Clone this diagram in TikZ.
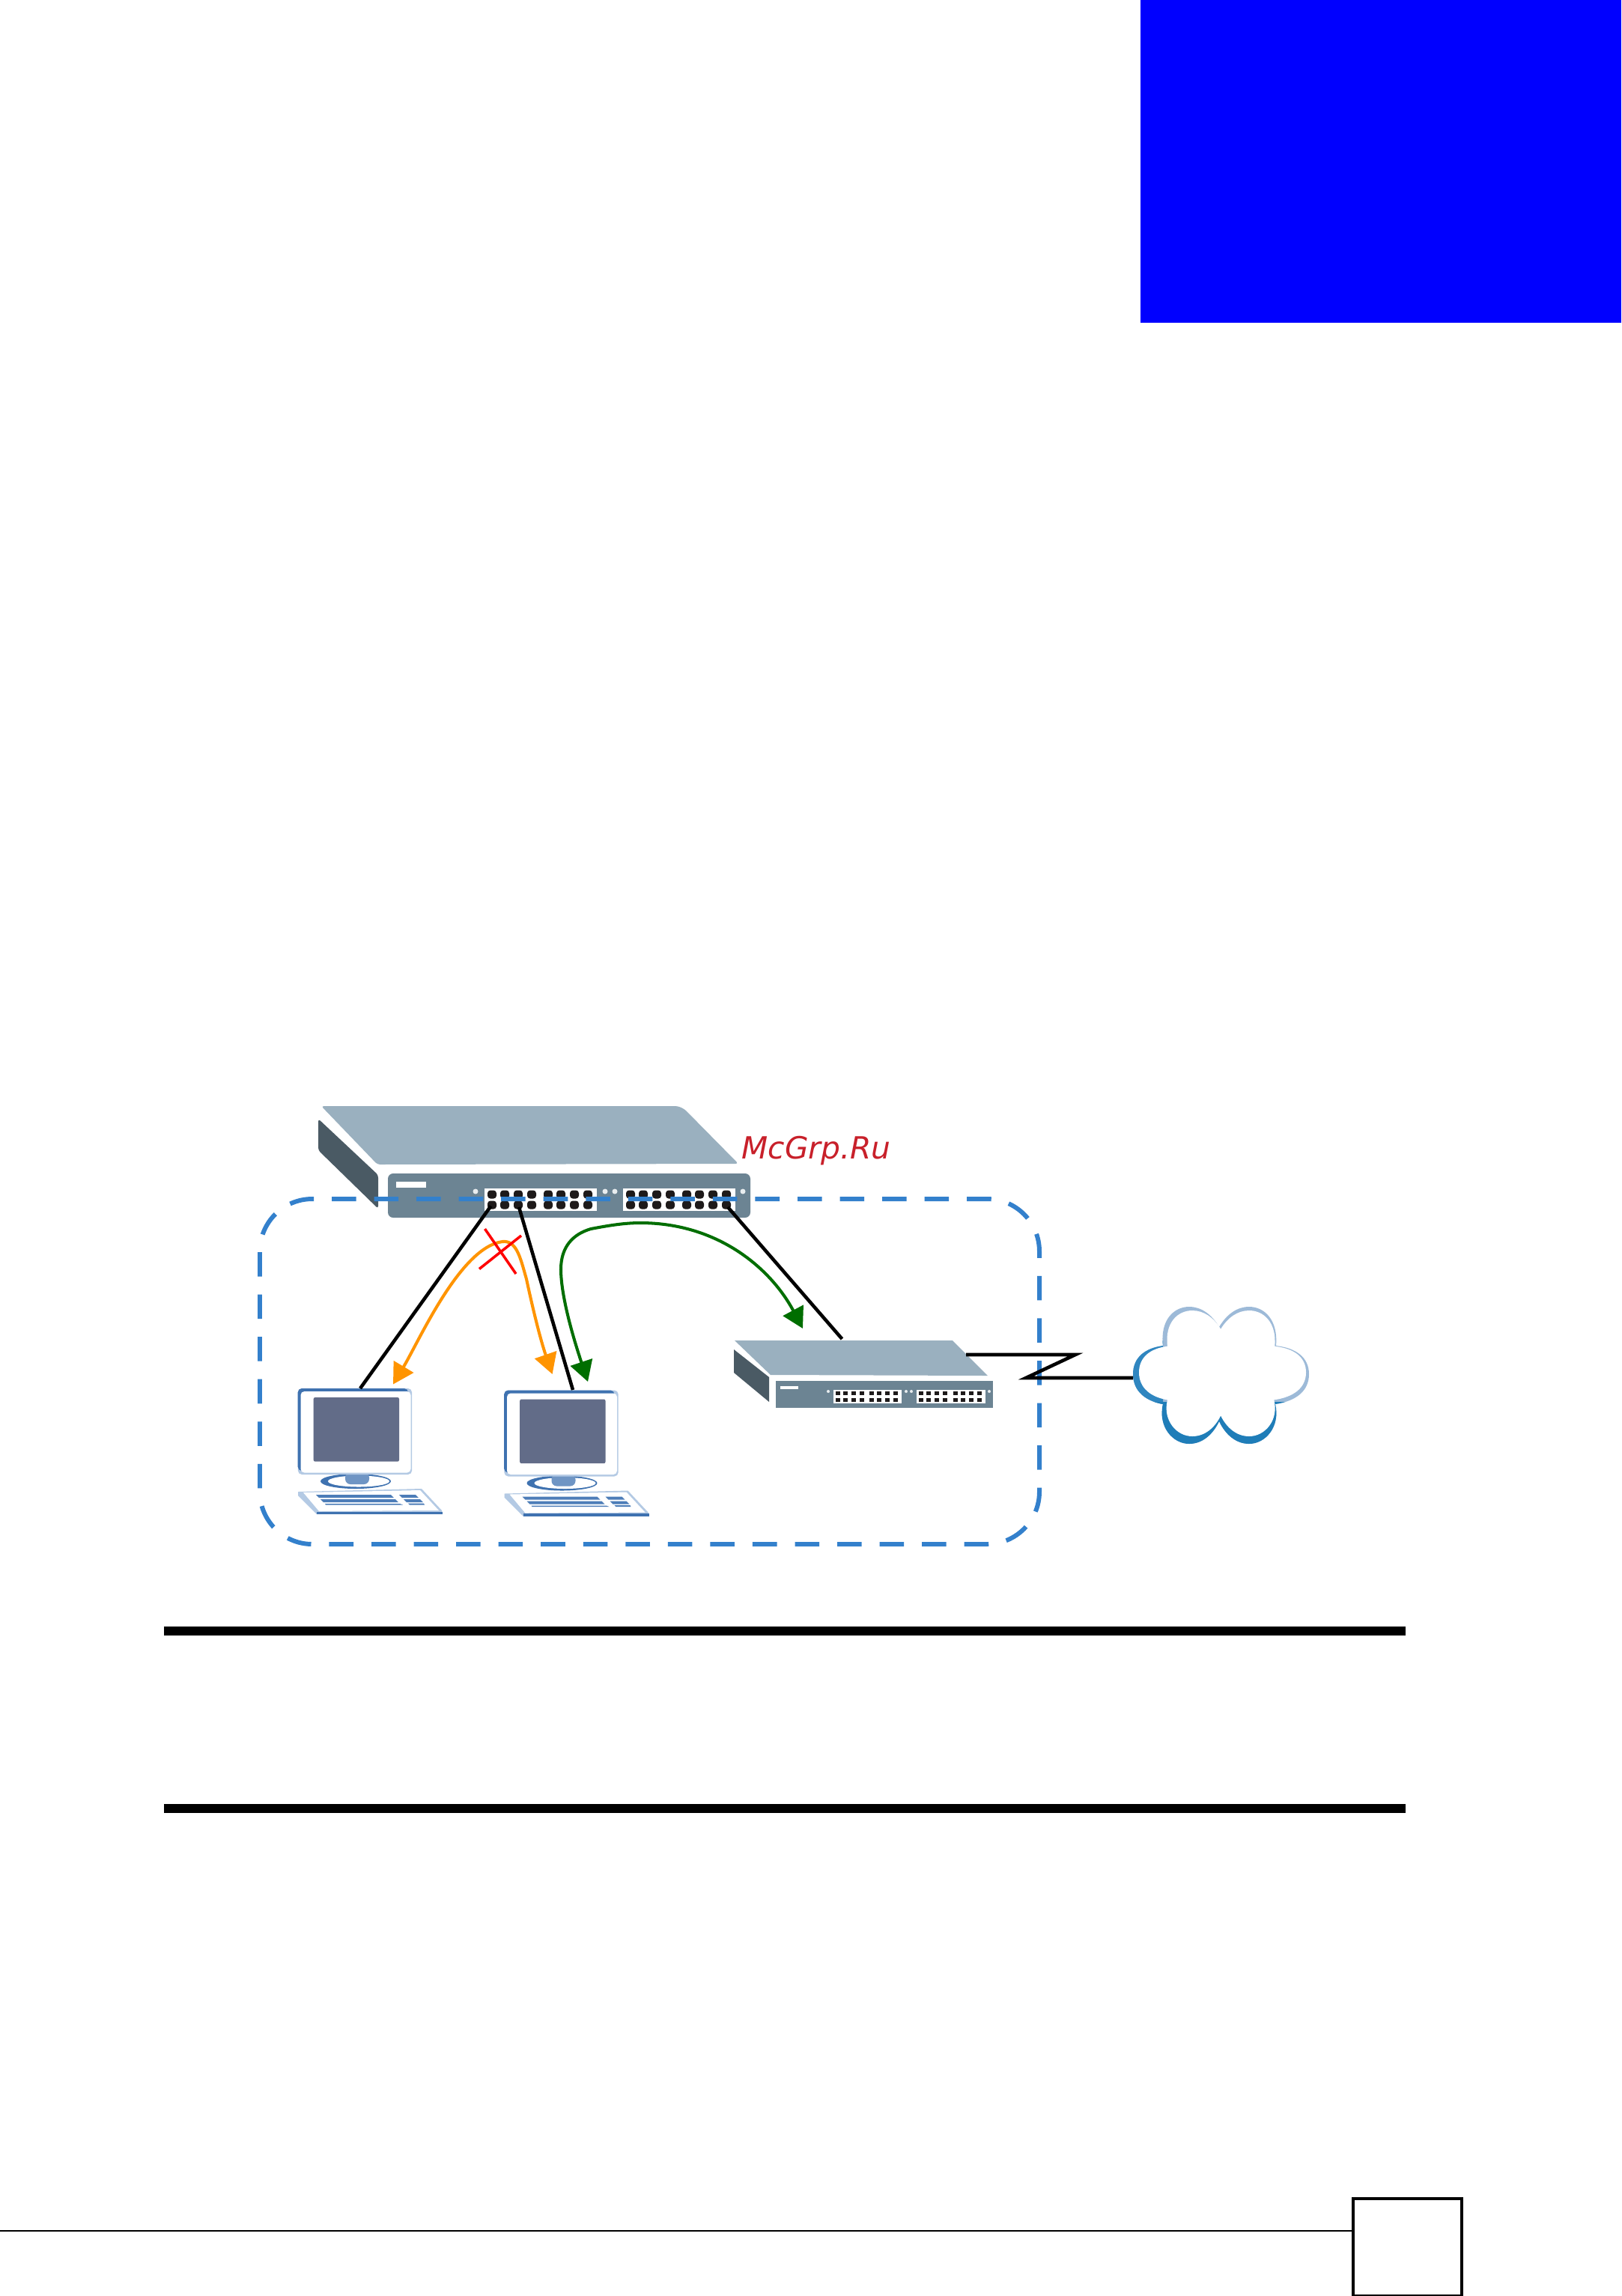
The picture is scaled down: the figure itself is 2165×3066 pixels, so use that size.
\documentclass[tikz,border=0pt]{standalone}
\usepackage{fontspec}
\setmainfont{DejaVu Sans}
\usetikzlibrary{arrows.meta}
\definecolor{topface}{HTML}{9AB0BF}
\definecolor{sideface}{HTML}{4A5A64}
\definecolor{frontface}{HTML}{6C8493}
\definecolor{portblack}{HTML}{1E1A1A}
\definecolor{zoneblue}{HTML}{3380CC}
\definecolor{okgreen}{HTML}{006E00}
\definecolor{blockorange}{HTML}{FF9400}
\definecolor{screen}{HTML}{626C88}
\definecolor{pcblue}{HTML}{3F72B0}
\definecolor{pckey}{HTML}{4D7DB8}
\definecolor{pcpale}{HTML}{B4CAE4}
\definecolor{wmred}{HTML}{C8202A}
\definecolor{cloudpale}{HTML}{9DBAD8}
\definecolor{cloudmid}{HTML}{2F86C0}
\definecolor{clouddark}{HTML}{1F7DB8}
\newcommand\cloudshape{(1628,1772) .. controls (1618,1755) and (1604,1745) .. (1588,1745)
  .. controls (1568,1745) and (1549,1762) .. (1553,1797)
  .. controls (1530,1800) and (1513,1812) .. (1513,1835)
  .. controls (1513,1858) and (1530,1871) .. (1553,1875)
  .. controls (1546,1905) and (1566,1928) .. (1588,1928)
  .. controls (1606,1928) and (1620,1915) .. (1628,1898)
  .. controls (1636,1915) and (1650,1928) .. (1668,1928)
  .. controls (1690,1928) and (1710,1905) .. (1703,1875)
  .. controls (1730,1871) and (1748,1858) .. (1748,1835)
  .. controls (1748,1812) and (1730,1800) .. (1704,1797)
  .. controls (1707,1762) and (1688,1745) .. (1668,1745)
  .. controls (1652,1745) and (1638,1755) .. (1628,1772) -- cycle}
\tikzset{
  x=0.01cm,y=-0.01cm,
  wire/.style={draw=black,line width=1.3pt},
  zone/.style={draw=zoneblue,line width=1.7pt,dash pattern=on 9.25pt off 6.83pt},
  flow/.style={line width=1.15pt,{Triangle[length=7.8pt,width=8.6pt]}-{Triangle[length=7.8pt,width=8.6pt]}},
  crossmark/.style={draw=red,line width=1pt},
  hrule/.style={draw=black,line width=3.41pt},
}
\begin{document}
\begin{tikzpicture}
\useasboundingbox (0,0) rectangle (2165,3066);
\fill[white] (0,0) rectangle (2165,3066);
% banner
\fill[blue] (1523,0) rectangle (2165,431);
% main switch
\fill[topface,rounded corners=1pt] (429,1477)--(905,1477)--(914,1481)--(986,1554)--(504,1555)--cycle;
\fill[sideface,rounded corners=1pt] (425,1494)--(505,1569)--(505,1614)--(425,1536)--cycle;
\fill[frontface,rounded corners=2pt] (518,1567) rectangle (1002,1626);
\fill[white] (529,1578) rectangle (569,1586);
\fill[white] (647,1587) rectangle (797,1617);
\fill[white] (832,1587) rectangle (982,1617);
\foreach \px in {657,674,692,710,732,749,767,785,842,859,877,895,917,934,952,970}
  \foreach \py in {1595,1609}
    \fill[portblack,rounded corners=1.1pt] (\px-6,\py-5.5) rectangle (\px+6,\py+5.5);
\foreach \px in {635,808,821,992}
  \fill[white!85!frontface] (\px,1591) circle[radius=3.5];
% small switch
\fill[topface] (981,1790)--(1272,1790)--(1319,1837)--(1029,1836)--cycle;
\fill[sideface] (980,1802)--(1027,1839)--(1027,1872)--(980,1833)--cycle;
\fill[frontface] (1036,1844) rectangle (1326,1880);
\fill[white] (1042,1850.5) rectangle (1066,1855);
\fill[white] (1112.5,1856) rectangle (1203.5,1874);
\fill[white] (1224,1856) rectangle (1316,1874);
\foreach \bx in {1112.5,1224}
  \foreach \ox in {6,16.4,27.3,38.2,51.6,61.9,72.8,83.8}
    \foreach \py in {1860.5,1869.5}
      \fill[portblack] (\bx+\ox-3,\py-2.6) rectangle (\bx+\ox+3,\py+2.6);
\foreach \px in {1106,1210,1217,1321}
  \fill[white!85!frontface] (\px,1858) circle[radius=2];
% computers
\foreach \pcname/\dx/\dy in {pca/0/0,pcb/275.5/2.5}{
\begin{scope}[shift={(\dx,\dy)}]
  % keyboard
  \fill[pcpale] (398,1992)--(563,1988)--(590,2017)--(591,2022)--(423,2022)--(398,1997)--cycle;
  \fill[white] (405,1993)--(561,1990)--(586,2017)--(426,2018)--cycle;
  \fill[pcblue] (423,2018.5) rectangle (591,2022);
  \fill[pckey] (422,1996)--(522,1996)--(526,2000)--(426,2000)--cycle;
  \fill[pckey] (428,2002)--(528,2002)--(532,2006)--(432,2006)--cycle;
  \fill[pckey] (434,2008)--(534,2008)--(538,2009.5)--(435,2009.5)--cycle;
  \fill[pckey] (533,1996)--(555,1996)--(559,2000)--(537,2000)--cycle;
  \fill[pckey] (539,2002)--(561,2002)--(565,2006)--(543,2006)--cycle;
  \fill[pckey] (545,2007.5)--(566,2007.5)--(567,2009.5)--(547,2009.5)--cycle;
  % stand
  \fill[pcblue] (475,1978) ellipse[x radius=47,y radius=10];
  \fill[white] (479,1978) ellipse[x radius=41,y radius=7.5];
  \fill[pcblue!75!white,rounded corners=2pt] (461,1966) rectangle (493,1982);
  % monitor
  \node[fill=pcpale,rounded corners=1.5pt,minimum width=43.3pt,minimum height=32.7pt,inner sep=0pt] (\pcname) at (474,1911.5) {};
  \fill[pcblue,rounded corners=1.5pt] (397.7,1854) rectangle (545,1964);
  \fill[white,rounded corners=1.4pt] (401.5,1858) rectangle (548.5,1966.5);
  \fill[screen,rounded corners=0.6pt] (418.7,1866) rectangle (533,1951.7);
\end{scope}}
% cloud
\coordinate (cloudedge) at (1513,1840);
\fill[cloudpale] \cloudshape;
\begin{scope}
  \clip (1500,1790) rectangle (1553,1880);
  \fill[cloudmid] \cloudshape;
\end{scope}
\begin{scope}
  \clip (1530,1872) rectangle (1720,1940);
  \fill[clouddark] \cloudshape;
\end{scope}
\begin{scope}[shift={(1521,1750)},xscale=0.949,yscale=0.918,shift={(-1513,-1745)}]
  \fill[white] \cloudshape;
\end{scope}
% dashed zone
\draw[zone] (443,1601) -- (1318,1601) arc[start angle=-90,end angle=0,radius=70]
  -- (1388,1992) arc[start angle=0,end angle=90,radius=70]
  -- (417,2062) arc[start angle=90,end angle=180,radius=70]
  -- (347,1671) arc[start angle=180,end angle=270,radius=70] -- cycle;
% named ends
\coordinate (porta) at (655.5,1610.5);
\coordinate (portb) at (693,1612);
\coordinate (portc) at (972,1612);
\coordinate (pcatop) at (481,1854);
\coordinate (pcbtop) at (765,1856);
\coordinate (swtop) at (1124.5,1788);
\coordinate (swright) at (1290,1809);
\coordinate (zigA) at (1436,1809);
\coordinate (zigB) at (1370,1840);
\coordinate (oranga) at (525,1848.5);
\coordinate (orangb) at (737.6,1835);
\coordinate (greena) at (785,1845);
\coordinate (greenb) at (1072,1774);
\draw[wire] (porta) -- (pcatop);
\draw[wire] (portb) -- (pcbtop);
\draw[wire] (portc) -- (swtop);
\draw[wire] (swright) -- (zigA) -- (zigB) -- (cloudedge);
% flows
\draw[flow,draw=blockorange] (oranga) .. controls (560,1790) and (615,1665) .. (671,1658)
  .. controls (690,1656) and (695,1680) .. (703,1708)
  .. controls (712,1750) and (722,1790) .. (orangb);
\draw[flow,draw=okgreen] (greena) .. controls (765,1785) and (749,1730) .. (749,1695)
  .. controls (749,1665) and (765,1648) .. (789,1641)
  .. controls (815,1636) and (835,1633) .. (855,1633)
  .. controls (960,1633) and (1030,1695) .. (greenb);
% cross
\draw[crossmark] (647.5,1641) -- (689,1701);
\draw[crossmark] (696,1650) -- (640,1694.5);
% watermark
\node[anchor=base west,inner sep=0pt,text=wmred,font=\fontsize{11.6pt}{13pt}\selectfont\itshape] (wm) at (990,1547) {McGrp.Ru};
% rules
\draw[hrule] (219,2178) -- (1877,2178);
\draw[hrule] (219,2415) -- (1877,2415);
% footer
\node[draw=black,line width=1.14pt,fill=white,minimum width=41.1pt,minimum height=36.9pt,inner sep=0pt] (pagebox) at (1879.5,3001) {};
\coordinate (footstart) at (0,2979);
\draw[black,line width=0.5pt] (footstart) -- (footstart -| pagebox.west);
\end{tikzpicture}
\end{document}
